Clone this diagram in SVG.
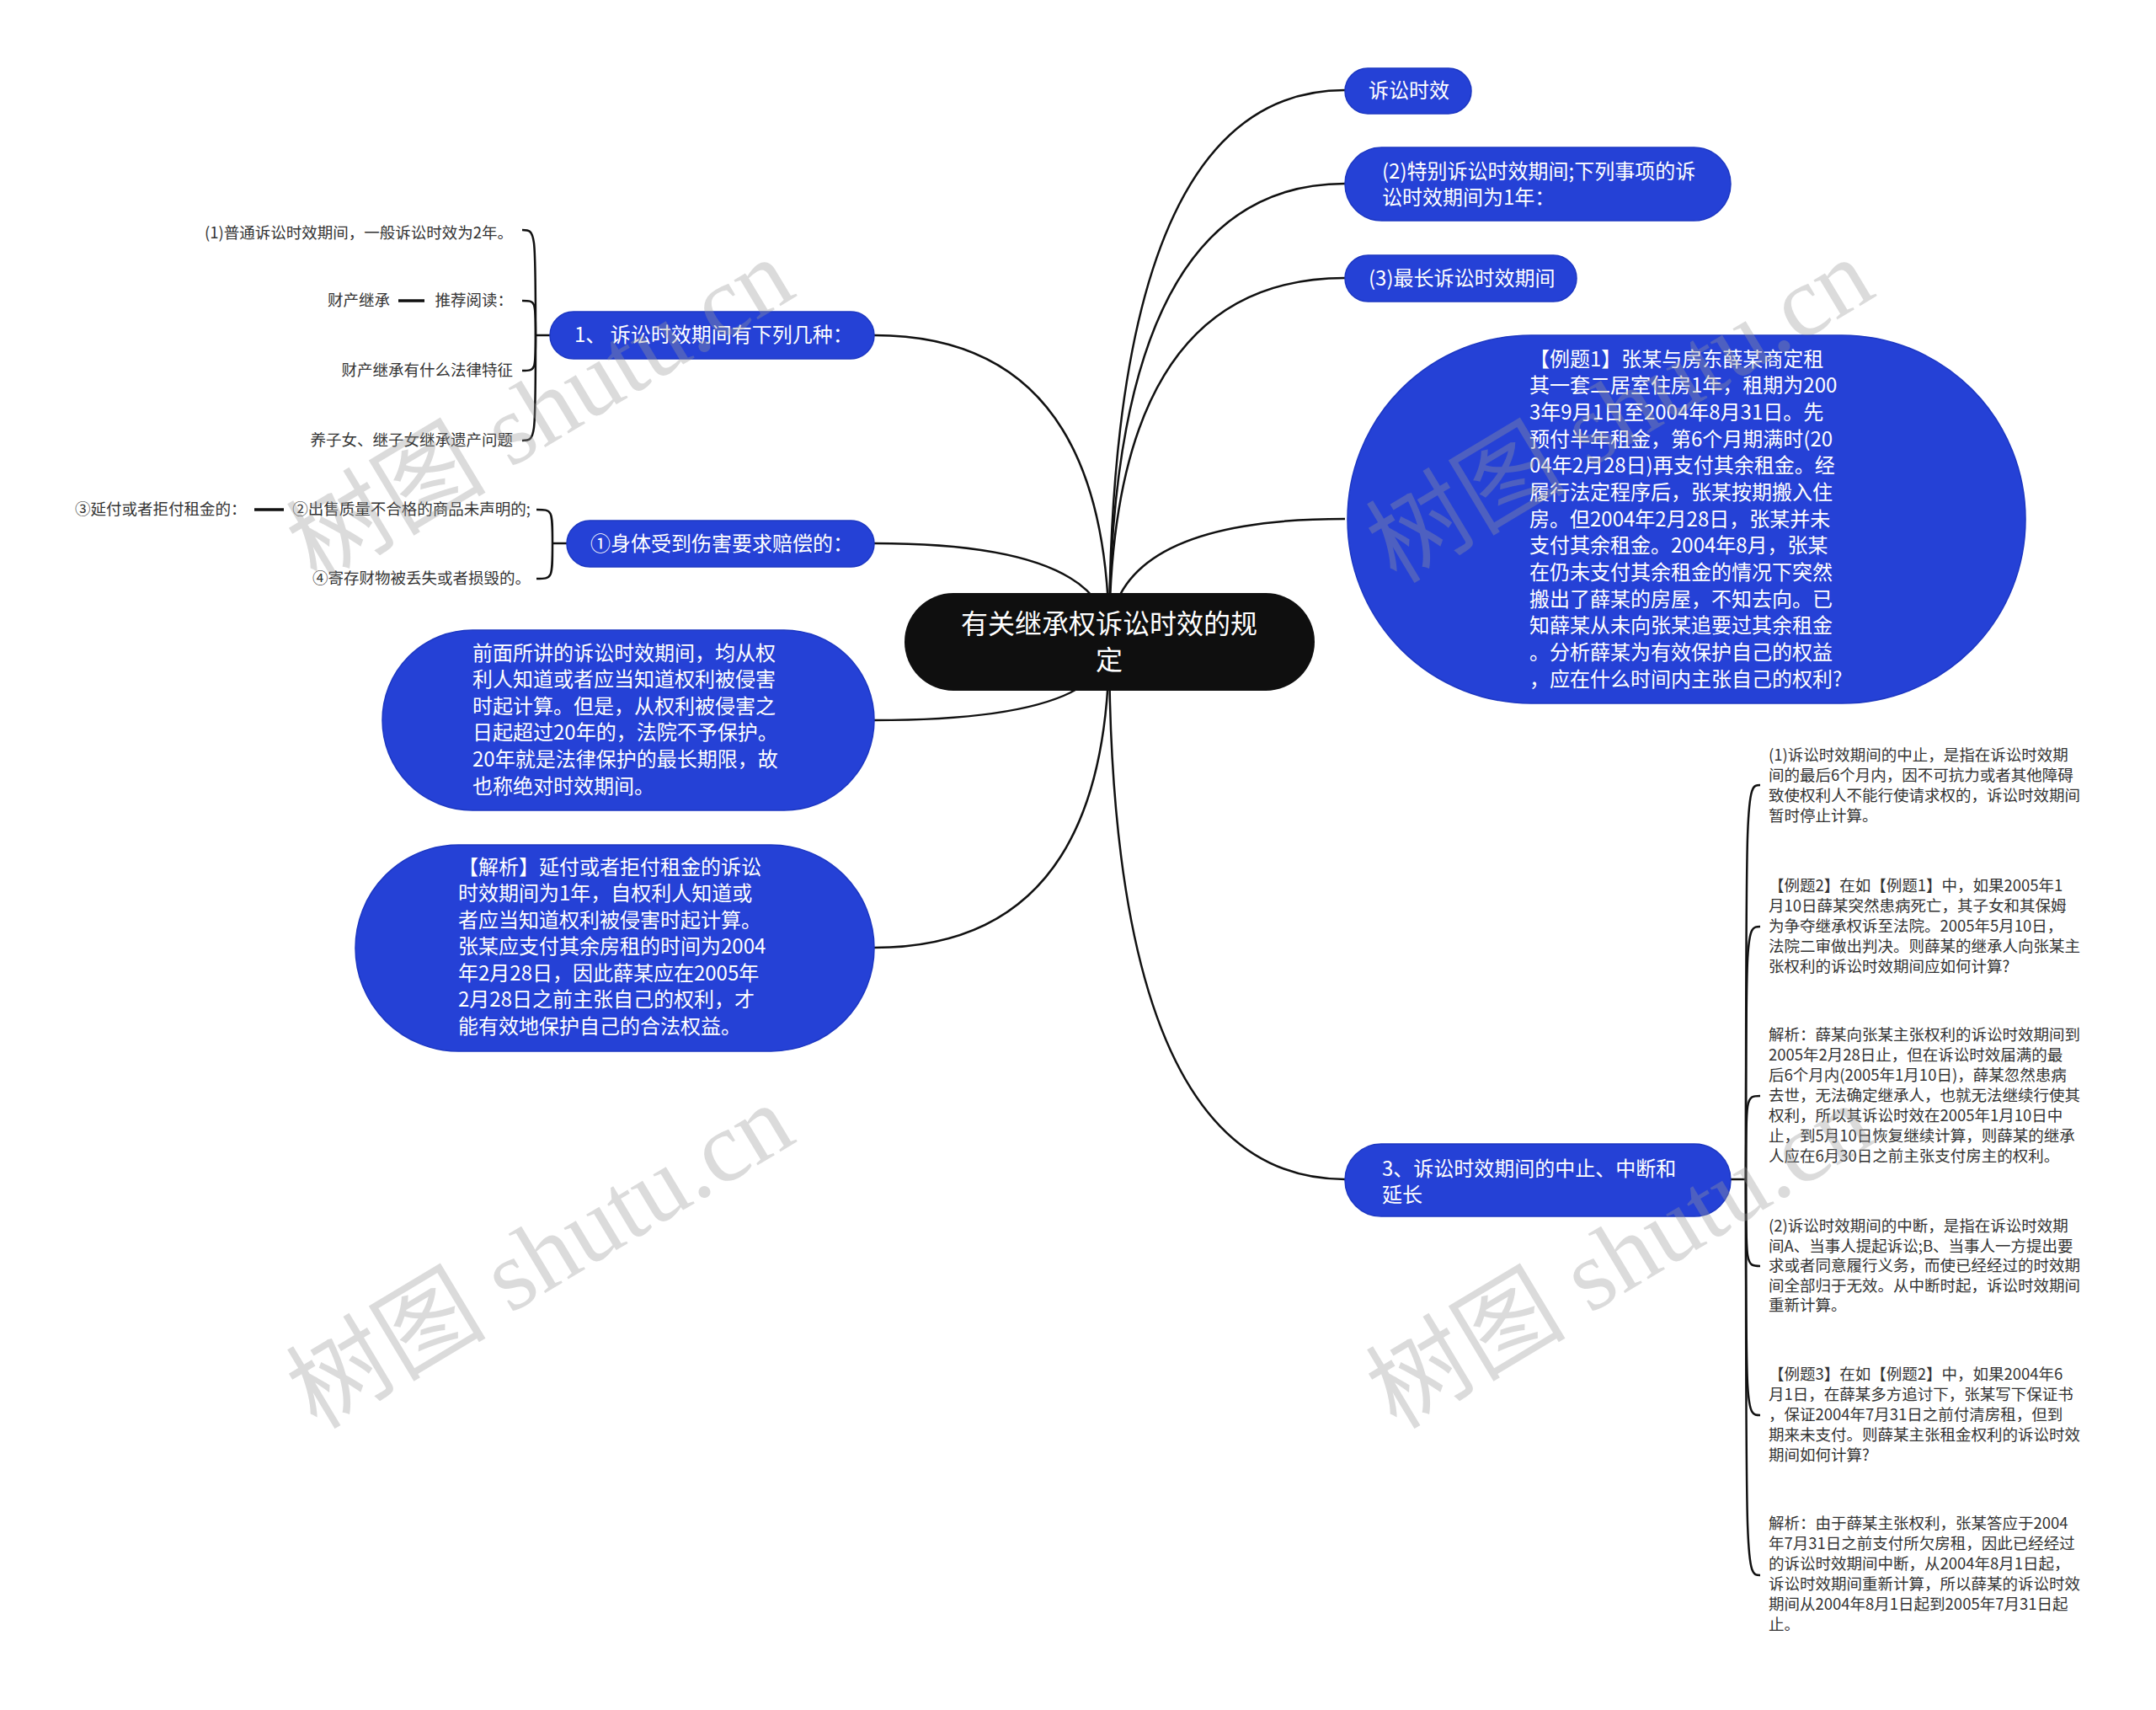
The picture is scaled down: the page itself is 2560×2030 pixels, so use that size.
<svg xmlns="http://www.w3.org/2000/svg" width="2560" height="2030" viewBox="0 0 2560 2030">
<style>
.bg{fill:#ffffff}
.conn path{fill:none;stroke:#111;stroke-width:2.5}
.conn .tick{stroke-width:3.5}
.blue{fill:#2541d6;stroke:#1c37c2;stroke-width:1.5}
.root{fill:#0f0f0f}
.t{font-family:"Noto Sans CJK SC","Noto Sans",sans-serif;dominant-baseline:central}
.tw{fill:#ffffff;font-size:24px}
.tr{fill:#ffffff;font-size:32px}
.tl{fill:#333333;font-size:18.5px}
.wm{font-family:"Liberation Serif","Noto Sans CJK SC",serif;font-size:119px;fill:#9a9a9a;opacity:0.35}
</style>
<rect class="bg" x="0" y="0" width="2560" height="2030"/>

<g id="connectors" class="conn">
  <path d="M1317 762 Q1317 107 1597 107"/>
  <path d="M1317 762 Q1317 218 1597 218"/>
  <path d="M1317 762 Q1317 330 1597 330"/>
  <path d="M1317 762 Q1317 616 1597 616"/>
  <path d="M1317 762 Q1317 1400 1597 1400"/>
  <path d="M1317 762 Q1317 398 1038 398"/>
  <path d="M1317 762 Q1317 645 1038 645"/>
  <path d="M1317 762 Q1317 855 1038 855"/>
  <path d="M1317 762 Q1317 1125 1038 1125"/>
  <path d="M653 398 H636"/>
  <path d="M636 398 C636 273 636 273 620 273"/>
  <path d="M636 398 C636 357 636 357 620 357"/>
  <path d="M636 398 C636 440 636 440 620 440"/>
  <path d="M636 398 C636 523 636 523 620 523"/>
  <path class="tick" d="M473 357 H504"/>
  <path d="M673 645 H656"/>
  <path d="M656 645 C656 605 656 605 637 605"/>
  <path d="M656 645 C656 687 656 687 637 687"/>
  <path class="tick" d="M302 605 H337"/>
  <path d="M2055 1400 H2073"/>
  <path d="M2073 1400 C2073 932 2073 932 2090 932"/>
  <path d="M2073 1400 C2073 1100 2073 1100 2090 1100"/>
  <path d="M2073 1400 C2073 1301 2073 1301 2090 1301"/>
  <path d="M2073 1400 C2073 1503 2073 1503 2090 1503"/>
  <path d="M2073 1400 C2073 1680 2073 1680 2090 1680"/>
  <path d="M2073 1400 C2073 1870 2073 1870 2090 1870"/>
</g>

<g id="n-root">
  <rect class="root" x="1074" y="704" width="487" height="116" rx="58"/>
  <text class="t tr" x="1317" y="738" text-anchor="middle">有关继承权诉讼时效的规</text>
  <text class="t tr" x="1317" y="781" text-anchor="middle">定</text>
</g>

<g id="n-susong">
  <rect class="blue" x="1597" y="81" width="150" height="54" rx="27"/>
  <text class="t tw" x="1625" y="105">诉讼时效</text>
</g>

<g id="n-tebie">
  <rect class="blue" x="1597" y="175" width="458" height="87" rx="43.5"/>
  <text class="t tw" x="1641" y="201">(2)特别诉讼时效期间;下列事项的诉</text>
  <text class="t tw" x="1641" y="232">讼时效期间为1年：</text>
</g>

<g id="n-zuichang">
  <rect class="blue" x="1597" y="303" width="275" height="55" rx="27.5"/>
  <text class="t tw" x="1625" y="328">(3)最长诉讼时效期间</text>
</g>

<g id="n-liti1">
  <rect class="blue" x="1600" y="398" width="805" height="437" rx="218"/>
  <text class="t tw" x="1816" y="424">【例题1】张某与房东薛某商定租</text>
  <text class="t tw" x="1816" y="455.7">其一套二居室住房1年，租期为200</text>
  <text class="t tw" x="1816" y="487.3">3年9月1日至2004年8月31日。先</text>
  <text class="t tw" x="1816" y="519">预付半年租金，第6个月期满时(20</text>
  <text class="t tw" x="1816" y="550.7">04年2月28日)再支付其余租金。经</text>
  <text class="t tw" x="1816" y="582.3">履行法定程序后，张某按期搬入住</text>
  <text class="t tw" x="1816" y="614">房。但2004年2月28日，张某并未</text>
  <text class="t tw" x="1816" y="645.7">支付其余租金。2004年8月，张某</text>
  <text class="t tw" x="1816" y="677.3">在仍未支付其余租金的情况下突然</text>
  <text class="t tw" x="1816" y="709">搬出了薛某的房屋，不知去向。已</text>
  <text class="t tw" x="1816" y="740.7">知薛某从未向张某追要过其余租金</text>
  <text class="t tw" x="1816" y="772.3">。分析薛某为有效保护自己的权益</text>
  <text class="t tw" x="1816" y="804">，应在什么时间内主张自己的权利?</text>
</g>

<g id="n-zhongzhi">
  <rect class="blue" x="1597" y="1358" width="458" height="86" rx="43"/>
  <text class="t tw" x="1641" y="1385">3、诉讼时效期间的中止、中断和</text>
  <text class="t tw" x="1641" y="1416">延长</text>
</g>

<g id="n-youxia">
  <rect class="blue" x="653" y="370" width="385" height="56" rx="28"/>
  <text class="t tw" x="682" y="395">1、 诉讼时效期间有下列几种：</text>
</g>

<g id="n-shenti">
  <rect class="blue" x="673" y="618" width="365" height="55" rx="27.5"/>
  <text class="t tw" x="701" y="643">①身体受到伤害要求赔偿的：</text>
</g>

<g id="n-qianmian">
  <rect class="blue" x="454" y="748" width="584" height="214" rx="107"/>
  <text class="t tw" x="561" y="773">前面所讲的诉讼时效期间，均从权</text>
  <text class="t tw" x="561" y="804.6">利人知道或者应当知道权利被侵害</text>
  <text class="t tw" x="561" y="836.2">时起计算。但是，从权利被侵害之</text>
  <text class="t tw" x="561" y="867.8">日起超过20年的，法院不予保护。</text>
  <text class="t tw" x="561" y="899.4">20年就是法律保护的最长期限，故</text>
  <text class="t tw" x="561" y="931">也称绝对时效期间。</text>
</g>

<g id="n-jiexi">
  <rect class="blue" x="422" y="1003" width="616" height="245" rx="122.5"/>
  <text class="t tw" x="544" y="1027">【解析】延付或者拒付租金的诉讼</text>
  <text class="t tw" x="544" y="1058.5">时效期间为1年，自权利人知道或</text>
  <text class="t tw" x="544" y="1090">者应当知道权利被侵害时起计算。</text>
  <text class="t tw" x="544" y="1121.5">张某应支付其余房租的时间为2004</text>
  <text class="t tw" x="544" y="1153">年2月28日，因此薛某应在2005年</text>
  <text class="t tw" x="544" y="1184.5">2月28日之前主张自己的权利，才</text>
  <text class="t tw" x="544" y="1216">能有效地保护自己的合法权益。</text>
</g>

<g id="n-putong">
  <text class="t tl" x="609" y="275" text-anchor="end">(1)普通诉讼时效期间，一般诉讼时效为2年。</text>
</g>
<g id="n-tuijian">
  <text class="t tl" x="609" y="355" text-anchor="end">推荐阅读：</text>
</g>
<g id="n-caichan">
  <text class="t tl" x="463" y="355" text-anchor="end">财产继承</text>
</g>
<g id="n-tezheng">
  <text class="t tl" x="609" y="438" text-anchor="end">财产继承有什么法律特征</text>
</g>
<g id="n-yangzinv">
  <text class="t tl" x="609" y="521" text-anchor="end">养子女、继子女继承遗产问题</text>
</g>
<g id="n-chushou">
  <text class="t tl" x="630" y="603" text-anchor="end">②出售质量不合格的商品未声明的;</text>
</g>
<g id="n-yanfu">
  <text class="t tl" x="89" y="603">③延付或者拒付租金的：</text>
</g>
<g id="n-jicun">
  <text class="t tl" x="630" y="685" text-anchor="end">④寄存财物被丢失或者损毁的。</text>
</g>

<g id="n-r1">
  <text class="t tl" x="2100" y="895">(1)诉讼时效期间的中止，是指在诉讼时效期</text>
  <text class="t tl" x="2100" y="919">间的最后6个月内，因不可抗力或者其他障碍</text>
  <text class="t tl" x="2100" y="943">致使权利人不能行使请求权的，诉讼时效期间</text>
  <text class="t tl" x="2100" y="967">暂时停止计算。</text>
</g>
<g id="n-r2">
  <text class="t tl" x="2100" y="1050">【例题2】在如【例题1】中，如果2005年1</text>
  <text class="t tl" x="2100" y="1074">月10日薛某突然患病死亡，其子女和其保姆</text>
  <text class="t tl" x="2100" y="1098">为争夺继承权诉至法院。2005年5月10日，</text>
  <text class="t tl" x="2100" y="1122">法院二审做出判决。则薛某的继承人向张某主</text>
  <text class="t tl" x="2100" y="1146">张权利的诉讼时效期间应如何计算?</text>
</g>
<g id="n-r3">
  <text class="t tl" x="2100" y="1227">解析：薛某向张某主张权利的诉讼时效期间到</text>
  <text class="t tl" x="2100" y="1251">2005年2月28日止，但在诉讼时效届满的最</text>
  <text class="t tl" x="2100" y="1275">后6个月内(2005年1月10日)，薛某忽然患病</text>
  <text class="t tl" x="2100" y="1299">去世，无法确定继承人，也就无法继续行使其</text>
  <text class="t tl" x="2100" y="1323">权利，所以其诉讼时效在2005年1月10日中</text>
  <text class="t tl" x="2100" y="1347">止，到5月10日恢复继续计算，则薛某的继承</text>
  <text class="t tl" x="2100" y="1371">人应在6月30日之前主张支付房主的权利。</text>
</g>
<g id="n-r4">
  <text class="t tl" x="2100" y="1454">(2)诉讼时效期间的中断，是指在诉讼时效期</text>
  <text class="t tl" x="2100" y="1477.5">间A、当事人提起诉讼;B、当事人一方提出要</text>
  <text class="t tl" x="2100" y="1501">求或者同意履行义务，而使已经经过的时效期</text>
  <text class="t tl" x="2100" y="1524.5">间全部归于无效。从中断时起，诉讼时效期间</text>
  <text class="t tl" x="2100" y="1548">重新计算。</text>
</g>
<g id="n-r5">
  <text class="t tl" x="2100" y="1630">【例题3】在如【例题2】中，如果2004年6</text>
  <text class="t tl" x="2100" y="1654">月1日，在薛某多方追讨下，张某写下保证书</text>
  <text class="t tl" x="2100" y="1678">，保证2004年7月31日之前付清房租，但到</text>
  <text class="t tl" x="2100" y="1702">期来未支付。则薛某主张租金权利的诉讼时效</text>
  <text class="t tl" x="2100" y="1726">期间如何计算?</text>
</g>
<g id="n-r6">
  <text class="t tl" x="2100" y="1807">解析：由于薛某主张权利，张某答应于2004</text>
  <text class="t tl" x="2100" y="1831">年7月31日之前支付所欠房租，因此已经经过</text>
  <text class="t tl" x="2100" y="1855">的诉讼时效期间中断，从2004年8月1日起，</text>
  <text class="t tl" x="2100" y="1879">诉讼时效期间重新计算，所以薛某的诉讼时效</text>
  <text class="t tl" x="2100" y="1903">期间从2004年8月1日起到2005年7月31日起</text>
  <text class="t tl" x="2100" y="1927">止。</text>
</g>

<g id="watermarks">
  <text class="wm" transform="translate(376 694) rotate(-31)">树图 shutu.cn</text>
  <text class="wm" transform="translate(1658 694) rotate(-31)">树图 shutu.cn</text>
  <text class="wm" transform="translate(376 1698) rotate(-31)">树图 shutu.cn</text>
  <text class="wm" transform="translate(1658 1698) rotate(-31)">树图 shutu.cn</text>
</g>
</svg>
